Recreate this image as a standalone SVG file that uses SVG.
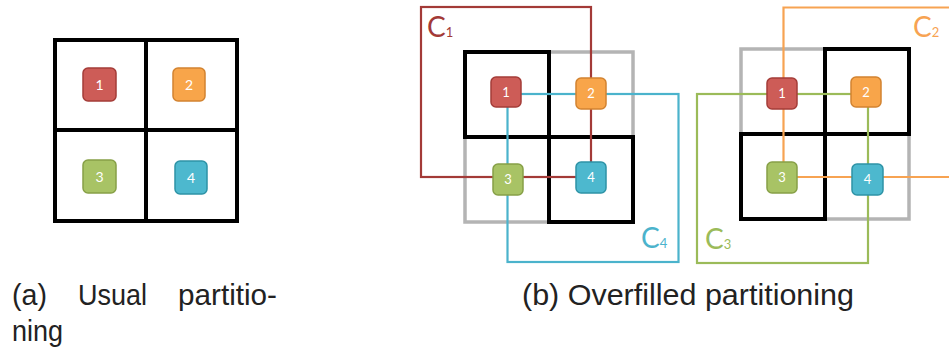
<svg xmlns="http://www.w3.org/2000/svg" width="949" height="352" viewBox="0 0 949 352">
<style>
.cell{fill:none;stroke:#000;stroke-width:4}
.gcell{fill:none;stroke:#b4b4b4;stroke-width:3.5}
.n1{fill:#cd5c57;stroke:#a43c38;stroke-width:1.5}
.n2{fill:#f8a54a;stroke:#d28330;stroke-width:1.5}
.n3{fill:#a8c365;stroke:#87a047;stroke-width:1.5}
.n4{fill:#4db8ce;stroke:#2e93a6;stroke-width:1.5}
.nt{fill:#fff;font-family:Lato,"Open Sans",sans-serif;font-size:14px;text-anchor:middle}
.nb{font-size:13px}
.c1{fill:none;stroke:#a33a37;stroke-width:2.2}
.c2{fill:none;stroke:#f7a352;stroke-width:2.2}
.c3{fill:none;stroke:#9bbb59;stroke-width:2.2}
.c4{fill:none;stroke:#4bb3cc;stroke-width:2.2}
.cl{font-family:Lato,"Open Sans",sans-serif;font-size:28px}
.cs{font-family:Lato,"Open Sans",sans-serif;font-size:13px}
.cap{font-family:"Liberation Sans",Arial,sans-serif;font-size:29px;fill:#222}
</style>

<!-- (a) usual partitioning -->
<g id="gridA">
<rect class="cell" x="55" y="40" width="182" height="181"/>
<line class="cell" x1="146" y1="40" x2="146" y2="221"/>
<line class="cell" x1="55" y1="130" x2="237" y2="130"/>
</g>
<g id="a1"><rect class="n1" x="83" y="68" width="33" height="33" rx="5"/><text class="nt" x="99.5" y="89.5">1</text></g>
<g id="a2"><rect class="n2" x="173" y="68" width="32" height="33" rx="5"/><text class="nt" x="189" y="89.5">2</text></g>
<g id="a3"><rect class="n3" x="83" y="160" width="33" height="33" rx="5"/><text class="nt" x="99.5" y="181.5">3</text></g>
<g id="a4"><rect class="n4" x="175" y="161" width="32" height="33" rx="5"/><text class="nt" x="191" y="182.5">4</text></g>

<!-- (b) overfilled partitioning, left -->
<g id="gridB1">
<rect class="gcell" x="549" y="52" width="84" height="85"/>
<rect class="gcell" x="465" y="137" width="84" height="85"/>
<rect class="cell" x="465" y="52" width="84" height="85"/>
<rect class="cell" x="549" y="137" width="84" height="85"/>
</g>
<!-- (b) right -->
<g id="gridB2">
<rect class="gcell" x="741" y="49" width="84" height="85"/>
<rect class="gcell" x="825" y="134" width="84" height="85"/>
<rect class="cell" x="825" y="49" width="84" height="85"/>
<rect class="cell" x="741" y="134" width="84" height="85"/>
</g>

<g id="connectors">
<rect class="c1" x="421" y="7" width="170" height="170"/>
<rect class="c4" x="507.5" y="94" width="171" height="168"/>
<path class="c2" d="M949,7.5 H783.5 V177 H949"/>
<rect class="c3" x="697" y="94" width="171" height="169"/>
</g>

<g id="b1n1"><rect class="n1" x="491" y="77" width="30" height="30" rx="5"/><text class="nt nb" x="506" y="96.5">1</text></g>
<g id="b1n2"><rect class="n2" x="576" y="78" width="30" height="31" rx="5"/><text class="nt nb" x="591" y="98">2</text></g>
<g id="b1n3"><rect class="n3" x="493" y="164" width="30" height="31" rx="5"/><text class="nt nb" x="508" y="184">3</text></g>
<g id="b1n4"><rect class="n4" x="576" y="162" width="30" height="31" rx="5"/><text class="nt nb" x="591" y="182">4</text></g>

<g id="b2n1"><rect class="n1" x="767" y="78" width="30" height="31" rx="5"/><text class="nt nb" x="782" y="98">1</text></g>
<g id="b2n2"><rect class="n2" x="851" y="77" width="30" height="30" rx="5"/><text class="nt nb" x="866" y="96.5">2</text></g>
<g id="b2n3"><rect class="n3" x="767" y="162" width="30" height="31" rx="5"/><text class="nt nb" x="782" y="182">3</text></g>
<g id="b2n4"><rect class="n4" x="852" y="164" width="31" height="31" rx="5"/><text class="nt nb" x="867.5" y="184">4</text></g>

<g id="labels">
<text class="cl" x="427" y="37" fill="#a33a37">C<tspan class="cs">1</tspan></text>
<text class="cl" x="913" y="37" fill="#f7a352">C<tspan class="cs">2</tspan></text>
<text class="cl" x="705" y="249" fill="#9bbb59">C<tspan class="cs">3</tspan></text>
<text class="cl" x="641" y="248" fill="#4bb3cc">C<tspan class="cs">4</tspan></text>
</g>

<g id="captions">
<text class="cap" x="12" y="305" textLength="35" lengthAdjust="spacingAndGlyphs">(a)</text>
<text class="cap" x="78" y="305" textLength="69" lengthAdjust="spacingAndGlyphs">Usual</text>
<text class="cap" x="178" y="305" textLength="99" lengthAdjust="spacingAndGlyphs">partitio-</text>
<text class="cap" x="12" y="341" textLength="51" lengthAdjust="spacingAndGlyphs">ning</text>
<text class="cap" x="522" y="305" textLength="332" lengthAdjust="spacingAndGlyphs">(b) Overfilled partitioning</text>
</g>
</svg>
